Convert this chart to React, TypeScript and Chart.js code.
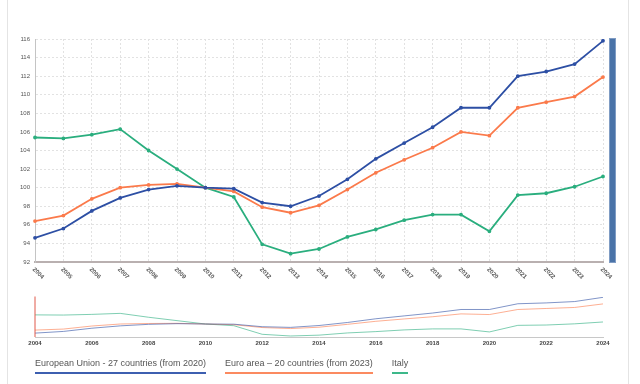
import React, { useEffect, useRef } from "react";
import { Chart, registerables } from "chart.js";

Chart.register(...registerables);

const years = ["2004","2005","2006","2007","2008","2009","2010","2011","2012","2013","2014","2015","2016","2017","2018","2019","2020","2021","2022","2023","2024"];
const euValues = [94.6, 95.6, 97.5, 98.9, 99.8, 100.2, 100.0, 99.9, 98.4, 98.0, 99.1, 100.9, 103.1, 104.8, 106.5, 108.6, 108.6, 112.0, 112.5, 113.3, 115.8];
const eaValues = [96.4, 97.0, 98.8, 100.0, 100.3, 100.4, 100.0, 99.6, 97.9, 97.3, 98.1, 99.8, 101.6, 103.0, 104.3, 106.0, 105.6, 108.6, 109.2, 109.8, 111.9];
const itValues = [105.4, 105.3, 105.7, 106.3, 104.0, 102.0, 100.0, 99.0, 93.9, 92.9, 93.4, 94.7, 95.5, 96.5, 97.1, 97.1, 95.3, 99.2, 99.4, 100.1, 101.2];
const seriesNames = ["European Union - 27 countries (from 2020)", "Euro area \u2013 20 countries (from 2023)", "Italy"];
const seriesColors = ["#2d4fa4", "#fb7a4b", "#2aae7e"];
const navColors = ["rgba(45,79,164,0.6)", "rgba(251,122,75,0.6)", "rgba(42,174,126,0.6)"];
const legendColors = ["#3d5fb0", "#fb8a60", "#3db88a"];

const FONT = "'Liberation Sans', Arial, sans-serif";

const rotatedLabels = {
  id: "rotatedLabels",
  afterDraw(chart: any) {
    const xs = chart.scales.x;
    const ctx = chart.ctx;
    ctx.save();
    ctx.font = "600 6px " + FONT;
    ctx.fillStyle = "#555";
    ctx.textAlign = "left";
    ctx.textBaseline = "middle";
    const bottom = chart.chartArea.bottom;
    years.forEach((y, i) => {
      const px = xs.getPixelForValue(i);
      ctx.save();
      ctx.translate(px - 1.5, bottom + 6.5);
      ctx.rotate(Math.PI / 4);
      ctx.fillText(y, 0, 0);
      ctx.restore();
    });
    ctx.restore();
  },
};

const navExtras = {
  id: "navExtras",
  afterDraw(chart: any) {
    const xs = chart.scales.x;
    const ctx = chart.ctx;
    const { top, bottom } = chart.chartArea;
    ctx.save();
    ctx.font = "600 6px " + FONT;
    ctx.fillStyle = "#444";
    ctx.textAlign = "center";
    ctx.textBaseline = "middle";
    years.forEach((y, i) => {
      if (i % 2 === 0) {
        ctx.fillText(y, xs.getPixelForValue(i), bottom + 6.5);
      }
    });
    const x0 = xs.getPixelForValue(0);
    ctx.strokeStyle = "#e0584a";
    ctx.lineWidth = 1;
    ctx.beginPath();
    ctx.moveTo(x0, top - 0.5);
    ctx.lineTo(x0, bottom);
    ctx.stroke();
    ctx.restore();
  },
};

export default function App() {
  const mainRef = useRef<HTMLCanvasElement>(null);
  const navRef = useRef<HTMLCanvasElement>(null);

  useEffect(() => {
    const values = [euValues, eaValues, itValues];
    const main = new Chart(mainRef.current!, {
      type: "line",
      data: {
        labels: years,
        datasets: values.map((v, i) => ({
          label: seriesNames[i],
          data: v,
          borderColor: seriesColors[i],
          backgroundColor: seriesColors[i],
          borderWidth: 1.8,
          pointRadius: 1,
          pointHoverRadius: 2,
          tension: 0,
        })),
      },
      options: {
        responsive: false,
        animation: false,
        layout: { padding: { top: 39, right: 17, bottom: 38, left: 0 } },
        plugins: { legend: { display: false }, tooltip: { enabled: false } },
        scales: {
          x: {
            type: "category",
            offset: false,
            ticks: { display: false },
            grid: { color: "#e2e2e2", drawTicks: false, lineWidth: 1 },
            border: { display: true, color: "#b9b0b0", width: 2, dash: [2, 2] },
            afterFit: (s: any) => { s.height = 0; },
          },
          y: {
            min: 92,
            max: 116,
            ticks: { stepSize: 2, font: { size: 6, family: FONT }, color: "#555", padding: 5 },
            grid: { color: "#e2e2e2", drawTicks: false, lineWidth: 1 },
            border: { display: true, color: "#c4c4c4", width: 1, dash: [2, 2] },
            afterFit: (s: any) => { s.width = 35; },
          },
        },
      },
      plugins: [rotatedLabels],
    });

    const nav = new Chart(navRef.current!, {
      type: "line",
      data: {
        labels: years,
        datasets: values.map((v, i) => ({
          label: seriesNames[i],
          data: v,
          borderColor: navColors[i],
          borderWidth: 1,
          pointRadius: 0,
          tension: 0,
        })),
      },
      options: {
        responsive: false,
        animation: false,
        layout: { padding: { top: 17, right: 17, bottom: 18, left: 35 } },
        plugins: { legend: { display: false }, tooltip: { enabled: false } },
        scales: {
          x: {
            type: "category",
            offset: false,
            ticks: { display: false },
            grid: { display: false, drawTicks: false },
            border: { display: true, color: "#c8c8c8", width: 1 },
            afterFit: (s: any) => { s.height = 0; },
          },
          y: {
            display: false,
            min: 92.3,
            max: 116,
          },
        },
      },
      plugins: [navExtras],
    });

    return () => {
      main.destroy();
      nav.destroy();
    };
  }, []);

  return (
    <div style={{ position: "fixed", left: 0, top: 0, width: 640, height: 384, background: "#fff", overflow: "hidden" }}>
      <div style={{ position: "absolute", left: 7, top: 0, width: 1, height: 384, background: "#e4e4e4" }} />
      <div style={{ position: "absolute", left: 628, top: 0, width: 1, height: 384, background: "#e4e4e4" }} />
      <canvas ref={mainRef} width={620} height={300} style={{ position: "absolute", left: 0, top: 0, width: 620, height: 300 }} />
      <canvas ref={navRef} width={620} height={75} style={{ position: "absolute", left: 0, top: 280, width: 620, height: 75 }} />
      <div style={{ position: "absolute", left: 609, top: 38, width: 7, height: 225, background: "#4a73a8", boxSizing: "border-box", border: "1px solid #7f9cc4" }} />
      <div style={{ position: "absolute", left: 35, top: 357, display: "flex", gap: 19, fontFamily: FONT, fontSize: 9, lineHeight: "12px", color: "#555", whiteSpace: "nowrap" }}>
        {seriesNames.map((n, i) => (
          <span key={n} style={{ display: "inline-block", paddingBottom: 3, borderBottom: "2px solid " + legendColors[i] }}>{n}</span>
        ))}
      </div>
    </div>
  );
}
